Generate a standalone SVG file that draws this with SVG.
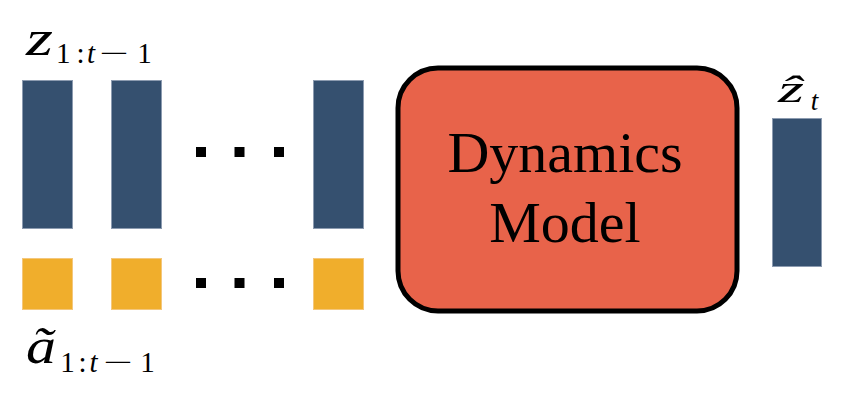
<svg xmlns="http://www.w3.org/2000/svg" width="844" height="404" viewBox="0 0 844 404">
<style>
.z{fill:#35506F;stroke:#8C9BB0;stroke-width:1}
.a{fill:#F0AE2C;stroke:#F4C77C;stroke-width:1}
.dot{fill:#000}
.m{font-family:"Liberation Serif","Times New Roman",serif;fill:#000}
.i{font-style:italic}
.box{fill:#E8634A;stroke:#000;stroke-width:5}
.lbl{font-family:"Liberation Serif","Times New Roman",serif;font-size:58px;fill:#000;text-anchor:middle}
</style>
<rect width="844" height="404" fill="#fff"/>
<g id="latents">
<rect class="z" x="22.5" y="80.5" width="50" height="148"/>
<rect class="z" x="111.5" y="80.5" width="50" height="148"/>
<rect class="z" x="313.5" y="80.5" width="50" height="148"/>
<rect class="dot" x="196" y="147" width="10" height="10"/>
<rect class="dot" x="234.5" y="147" width="10" height="10"/>
<rect class="dot" x="274" y="147" width="10" height="10"/>
</g>
<g id="actions">
<rect class="a" x="22.5" y="258.5" width="50" height="51"/>
<rect class="a" x="111.5" y="258.5" width="50" height="51"/>
<rect class="a" x="313.5" y="258.5" width="50" height="51"/>
<rect class="dot" x="196" y="278" width="10" height="10"/>
<rect class="dot" x="234.5" y="278" width="10" height="10"/>
<rect class="dot" x="274" y="278" width="10" height="10"/>
</g>
<g id="label-z">
<text class="m i" x="26" y="55" font-size="50" textLength="27" lengthAdjust="spacingAndGlyphs">z</text>
<text class="m" x="63.3" y="63" font-size="29" text-anchor="middle">1</text>
<text class="m" x="80.5" y="63" font-size="29" text-anchor="middle">:</text>
<text class="m i" x="91" y="63" font-size="29" text-anchor="middle">t</text>
<text class="m" transform="translate(114,63) scale(1.8,1)" font-size="29" text-anchor="middle">−</text>
<text class="m" x="144.5" y="63" font-size="29" text-anchor="middle">1</text>
</g>
<g id="label-a">
<text class="m i" x="26" y="363" font-size="50" textLength="30" lengthAdjust="spacingAndGlyphs">ã</text>
<text class="m" x="67.5" y="372" font-size="29" text-anchor="middle">1</text>
<text class="m" x="82.5" y="372" font-size="29" text-anchor="middle">:</text>
<text class="m i" x="93.5" y="372" font-size="29" text-anchor="middle">t</text>
<text class="m" transform="translate(118,372) scale(1.8,1)" font-size="29" text-anchor="middle">−</text>
<text class="m" x="147.5" y="372" font-size="29" text-anchor="middle">1</text>
</g>
<g id="dynamics-model">
<rect class="box" x="398" y="68" width="339" height="243" rx="40" ry="40"/>
<text class="lbl" x="565" y="172">Dynamics</text>
<text class="lbl" x="565" y="242">Model</text>
</g>
<g id="prediction">
<rect class="z" x="772.5" y="118.5" width="49" height="148"/>
<text class="m i" x="778" y="102" font-size="38" textLength="26" lengthAdjust="spacingAndGlyphs">ẑ</text>
<text class="m i" x="814.5" y="110" font-size="27" text-anchor="middle">t</text>
</g>
<g id="connectors"></g>
</svg>
